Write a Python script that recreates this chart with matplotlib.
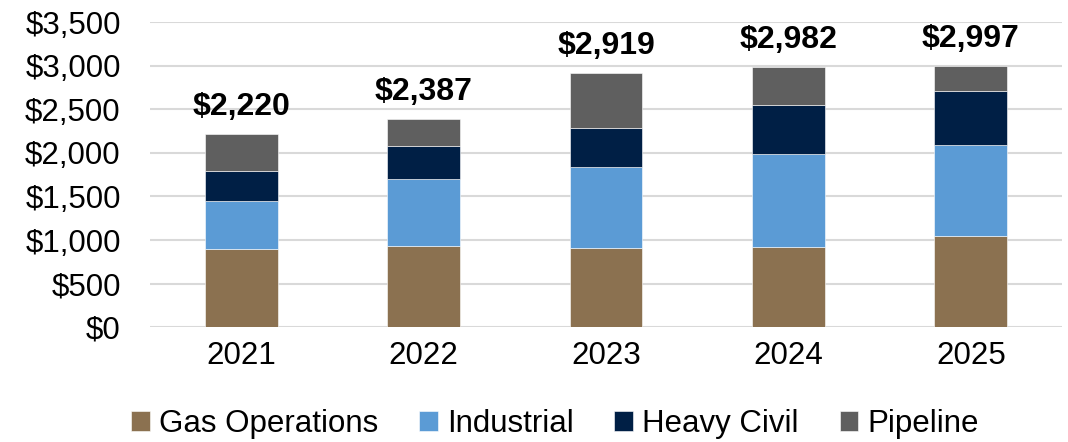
import matplotlib
matplotlib.use("Agg")
import matplotlib.pyplot as plt
import numpy as np

years = ["2021", "2022", "2023", "2024", "2025"]
gas_operations = [894, 928, 912, 924, 1050]
industrial = [550, 772, 928, 1062, 1043]
heavy_civil = [347, 374, 447, 562, 615]
pipeline = [429, 313, 632, 434, 289]
totals = [2220, 2387, 2919, 2982, 2997]
y_ticks = [0, 500, 1000, 1500, 2000, 2500, 3000, 3500]

series_names = ["Gas Operations", "Industrial", "Heavy Civil", "Pipeline"]
colors = ["#8B7150", "#5B9BD5", "#001F45", "#5F5F5F"]

plt.rcParams["font.family"] = ["Liberation Sans", "DejaVu Sans"]

fig = plt.figure(figsize=(10.68, 4.42), dpi=100)
ax = fig.add_axes([150/1068, (442-327.3)/442, 912/1068, 305.3/442])

x = np.arange(len(years))
bottom = np.zeros(len(years))
handles = []
for name, vals, c in zip(series_names, [gas_operations, industrial, heavy_civil, pipeline], colors):
    b = ax.bar(x, vals, width=0.4, bottom=bottom, color=c, label=name,
               edgecolor="white", linewidth=0.4, zorder=3)
    handles.append(b)
    bottom += np.array(vals)

for xi, t in zip(x, totals):
    ax.annotate(f"${t:,}", xy=(xi, t), xytext=(0, 13.5), textcoords="offset points",
                ha="center", va="baseline", fontsize=23, fontweight="bold")

ax.set_xlim(-0.5, len(years) - 0.5)
ax.set_ylim(0, 3500)
ax.set_yticks(y_ticks)
ax.set_yticklabels([f"${v:,}" for v in y_ticks])
ax.set_xticks(x)
ax.set_xticklabels(years)
ax.tick_params(axis="y", length=0, pad=21, labelsize=22.5)
ax.tick_params(axis="x", length=0, pad=10, labelsize=22.5)
ax.grid(axis="y", color="#D9D9D9", linewidth=1.5, zorder=0)
for s in ax.spines.values():
    s.set_visible(False)

fig.legend(handles=handles, labels=series_names, loc="center",
           bbox_to_anchor=(555/1068, 1 - 424/442), ncol=4, frameon=False,
           fontsize=22.5, handlelength=0.6, handleheight=0.6, handletextpad=0.3,
           columnspacing=1.3)

fig.savefig("out.png", dpi=100)
